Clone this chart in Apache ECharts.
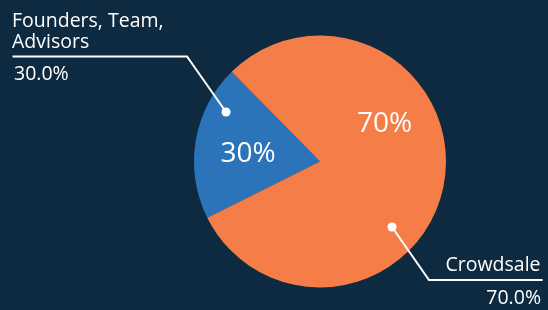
<!DOCTYPE html>
<html>
<head>
<meta charset="utf-8">
<script src="https://cdn.jsdelivr.net/npm/echarts@6/dist/echarts.min.js"></script>
<style>
  html, body { margin: 0; padding: 0; background: #0e2a40; }
  #chart { width: 548px; height: 310px; }
</style>
</head>
<body>
<div id="chart"></div>
<script>
const sliceNames = ['Founders, Team,\nAdvisors', 'Crowdsale'];
const sliceValues = [20, 80];      // slice sizes as drawn
const labelPercents = [30, 70];    // percentages printed on the chart
const sliceColors = ['#2b74ba', '#f57d48'];

const font = '"Open Sans", sans-serif';
const center = [320, 161.5];
const radius = 126;

// callouts: dot inside the slice, elbow, then a rule out to the edge
const callouts = [
  { dot: [226, 112], elbow: [187, 56.5], end: 12.5, align: 'left', nameX: 12, nameY: 32, pctX: 14, pctY: 74 },
  { dot: [392, 227], elbow: [429, 280], end: 542.5, align: 'right', nameX: 540.5, nameY: 265, pctX: 541, pctY: 298 }
];
const innerLabelPos = [[248, 154], [384.5, 124]];

var myChart = echarts.init(document.getElementById('chart'));

const pieData = (colored) => sliceValues.map((v, i) => ({
  name: sliceNames[i],
  value: v,
  itemStyle: { color: colored ? sliceColors[i] : 'rgba(0,0,0,0)' }
}));

const base = {
  type: 'pie',
  center: center,
  radius: radius,
  startAngle: 206.5,
  silent: true,
  animation: false,
  avoidLabelOverlap: false,
  emphasis: { disabled: true }
};

const option = {
  backgroundColor: '#0e2a40',
  series: [
    Object.assign({}, base, {
      z: 1,
      data: pieData(true),
      label: {
        show: true,
        position: 'inside',
        color: '#fff',
        fontSize: 28,
        fontFamily: font,
        formatter: (p) => labelPercents[p.dataIndex] + '%'
      },
      labelLine: { show: false },
      labelLayout: (p) => ({
        x: innerLabelPos[p.dataIndex][0],
        y: innerLabelPos[p.dataIndex][1],
        align: 'center',
        verticalAlign: 'middle'
      })
    }),
    // names above the rule, with the leader line
    Object.assign({}, base, {
      z: 5,
      data: pieData(false),
      label: {
        show: true,
        color: '#fff',
        fontSize: 19.5,
        lineHeight: 21.5,
        fontFamily: font,
        overflow: 'none',
        formatter: '{b}'
      },
      labelLine: { show: true, showAbove: true, lineStyle: { color: '#fff', width: 2 } },
      labelLayout: (p) => {
        const c = callouts[p.dataIndex];
        return {
          x: c.nameX,
          y: c.nameY,
          align: c.align,
          verticalAlign: 'middle',
          labelLinePoints: [c.dot, c.elbow, [c.end, c.elbow[1]]]
        };
      }
    }),
    // percentages under the rule, plus the dot at the start of the line
    Object.assign({}, base, {
      z: 6,
      data: pieData(false),
      label: {
        show: true,
        color: '#fff',
        fontSize: 19.5,
        fontFamily: font,
        overflow: 'none',
        formatter: (p) => labelPercents[p.dataIndex].toFixed(1) + '%'
      },
      labelLine: { show: true, showAbove: true, lineStyle: { color: '#fff', width: 9, cap: 'round' } },
      labelLayout: (p) => {
        const c = callouts[p.dataIndex];
        return {
          x: c.pctX,
          y: c.pctY,
          align: c.align,
          verticalAlign: 'middle',
          labelLinePoints: [c.dot, [c.dot[0] + 0.05, c.dot[1]], [c.dot[0] + 0.1, c.dot[1]]]
        };
      }
    })
  ]
};

myChart.setOption(option);
</script>
</body>
</html>
